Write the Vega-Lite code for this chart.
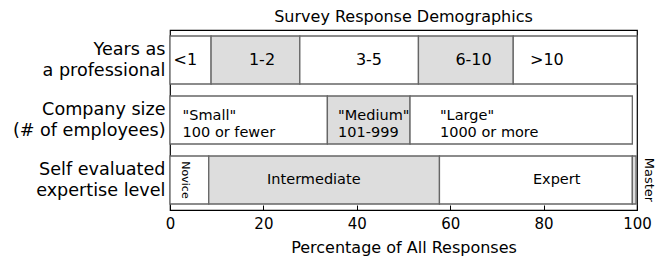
{
  "$schema": "https://vega.github.io/schema/vega-lite/v6.json",
  "autosize": "none",
  "width": 467,
  "height": 180,
  "padding": {"left": 170, "top": 30, "right": 28, "bottom": 49},
  "background": "white",
  "config": {
    "font": "DejaVu Sans",
    "view": {"stroke": "#000", "strokeWidth": 1.2},
    "title": {"fontSize": 16, "fontWeight": "normal", "color": "#000", "offset": 5}
  },
  "title": {"text": "Survey Response Demographics"},
  "datasets": {
    "bars": [
      {"row": "Years as|a professional", "start": 0, "end": 8.8, "shade": "white"},
      {"row": "Years as|a professional", "start": 8.8, "end": 27.8, "shade": "gray"},
      {"row": "Years as|a professional", "start": 27.8, "end": 53.2, "shade": "white"},
      {"row": "Years as|a professional", "start": 53.2, "end": 73.5, "shade": "gray"},
      {"row": "Years as|a professional", "start": 73.5, "end": 100, "shade": "white"},
      {"row": "Company size|(# of employees)", "start": 0, "end": 33.7, "shade": "white"},
      {"row": "Company size|(# of employees)", "start": 33.7, "end": 51.4, "shade": "gray"},
      {"row": "Company size|(# of employees)", "start": 51.4, "end": 99.0, "shade": "white"},
      {"row": "Self evaluated|expertise level", "start": 0, "end": 8.3, "shade": "white"},
      {"row": "Self evaluated|expertise level", "start": 8.3, "end": 57.7, "shade": "gray"},
      {"row": "Self evaluated|expertise level", "start": 57.7, "end": 99.0, "shade": "white"},
      {"row": "Self evaluated|expertise level", "start": 99.0, "end": 99.8, "shade": "gray"}
    ],
    "bigLabels": [
      {"row": "Years as|a professional", "pos": 3.3, "label": "<1"},
      {"row": "Years as|a professional", "pos": 19.7, "label": "1-2"},
      {"row": "Years as|a professional", "pos": 42.6, "label": "3-5"},
      {"row": "Years as|a professional", "pos": 65.0, "label": "6-10"},
      {"row": "Years as|a professional", "pos": 80.7, "label": ">10"}
    ],
    "sizeLabels": [
      {"row": "Company size|(# of employees)", "pos": 2.7, "label": "\"Small\"|100 or fewer"},
      {"row": "Company size|(# of employees)", "pos": 36.0, "label": "\"Medium\"|101-999"},
      {"row": "Company size|(# of employees)", "pos": 57.8, "label": "\"Large\"|1000 or more"}
    ],
    "expLabels": [
      {"row": "Self evaluated|expertise level", "pos": 30.8, "label": "Intermediate"},
      {"row": "Self evaluated|expertise level", "pos": 82.8, "label": "Expert"}
    ],
    "novice": [
      {"row": "Self evaluated|expertise level", "pos": 3.2, "label": "Novice"}
    ],
    "master": [
      {"row": "Self evaluated|expertise level", "pos": 102.6, "label": "Master"}
    ]
  },
  "encoding": {
    "y": {
      "field": "row",
      "type": "nominal",
      "sort": ["Years as|a professional", "Company size|(# of employees)", "Self evaluated|expertise level"],
      "scale": {"paddingInner": 0.2, "paddingOuter": 0.1},
      "axis": {
        "title": null,
        "ticks": false,
        "domain": false,
        "labelExpr": "split(datum.label, '|')",
        "labelFontSize": 17.6,
        "labelColor": "#000",
        "labelLineHeight": 21,
        "labelPadding": 5,
        "labelOffset": -10,
        "labelLimit": 200
      }
    }
  },
  "layer": [
    {
      "data": {"name": "bars"},
      "mark": {"type": "bar", "stroke": "#666", "strokeWidth": 1.3, "opacity": 1},
      "encoding": {
        "x": {
          "field": "start",
          "type": "quantitative",
          "scale": {"domain": [0, 100], "nice": false},
          "axis": {
            "values": [0, 20, 40, 60, 80, 100],
            "title": "Percentage of All Responses",
            "titleFontSize": 16,
            "titleFontWeight": "normal",
            "titleColor": "#000",
            "titlePadding": 8,
            "labelFontSize": 15,
            "labelColor": "#000",
            "labelPadding": 11,
            "tickSize": -5,
            "tickColor": "#000",
            "domain": false,
            "grid": false,
            "labelFlush": false
          }
        },
        "x2": {"field": "end"},
        "fill": {
          "field": "shade",
          "type": "nominal",
          "scale": {"domain": ["white", "gray"], "range": ["#ffffff", "#dddddd"]},
          "legend": null
        }
      }
    },
    {
      "data": {"name": "bigLabels"},
      "mark": {"type": "text", "fontSize": 16, "color": "#000", "align": "center", "baseline": "middle"},
      "encoding": {
        "x": {"field": "pos", "type": "quantitative"},
        "text": {"field": "label"}
      }
    },
    {
      "data": {"name": "sizeLabels"},
      "mark": {"type": "text", "fontSize": 14.5, "color": "#000", "align": "left", "baseline": "middle", "lineHeight": 17, "dy": -4},
      "encoding": {
        "x": {"field": "pos", "type": "quantitative"},
        "text": {"field": "label"}
      },
      "transform": [{"calculate": "split(datum.label, '|')", "as": "label"}]
    },
    {
      "data": {"name": "expLabels"},
      "mark": {"type": "text", "fontSize": 14.5, "color": "#000", "align": "center", "baseline": "middle"},
      "encoding": {
        "x": {"field": "pos", "type": "quantitative"},
        "text": {"field": "label"}
      }
    },
    {
      "data": {"name": "novice"},
      "mark": {"type": "text", "fontSize": 11, "color": "#000", "align": "center", "baseline": "middle", "angle": 90},
      "encoding": {
        "x": {"field": "pos", "type": "quantitative"},
        "text": {"field": "label"}
      }
    },
    {
      "data": {"name": "master"},
      "mark": {"type": "text", "fontSize": 13, "color": "#000", "align": "center", "baseline": "middle", "angle": 90, "clip": false},
      "encoding": {
        "x": {"field": "pos", "type": "quantitative"},
        "text": {"field": "label"}
      }
    }
  ]
}
